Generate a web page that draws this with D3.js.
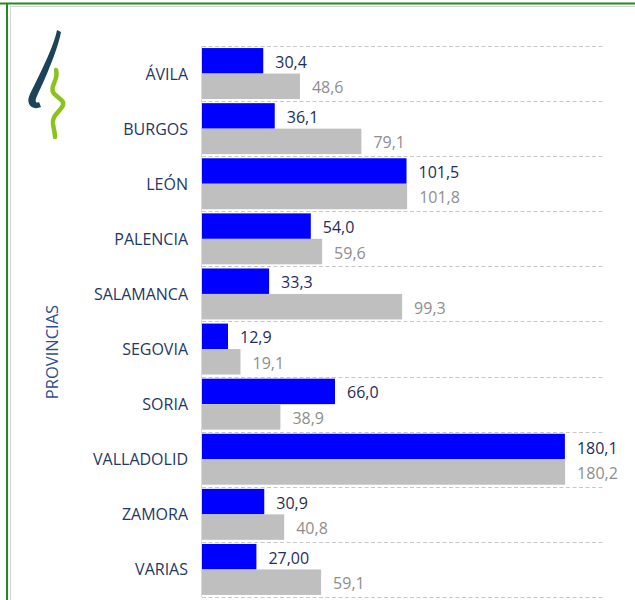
<!DOCTYPE html>
<html>
<head>
<meta charset="utf-8">
<script src="https://cdn.jsdelivr.net/npm/d3@7"></script>
<style>
  body { margin: 0; background: #fff; }
  svg { display: block; font-family: "Open Sans", sans-serif; }
</style>
</head>
<body>
<div id="chart"></div>
<script>
var provincias = ["ÁVILA", "BURGOS", "LEÓN", "PALENCIA", "SALAMANCA", "SEGOVIA", "SORIA", "VALLADOLID", "ZAMORA", "VARIAS"];
var serieAzul = [30.4, 36.1, 101.5, 54.0, 33.3, 12.9, 66.0, 180.1, 30.9, 27.00];
var serieGris = [48.6, 79.1, 101.8, 59.6, 99.3, 19.1, 38.9, 180.2, 40.8, 59.1];
var etiquetasAzul = ["30,4", "36,1", "101,5", "54,0", "33,3", "12,9", "66,0", "180,1", "30,9", "27,00"];
var etiquetasGris = ["48,6", "79,1", "101,8", "59,6", "99,3", "19,1", "38,9", "180,2", "40,8", "59,1"];

var width = 635, height = 600;
var margin = { top: 46, right: 30, bottom: 3, left: 202 };

var svg = d3.select("#chart")
  .append("svg")
  .attr("width", width)
  .attr("height", height);

// frame (green outer + light inner)
svg.append("line").attr("x1", 0).attr("x2", width).attr("y1", 3.5).attr("y2", 3.5)
  .attr("stroke", "#1e8c1e").attr("stroke-width", 2);
svg.append("line").attr("x1", 7).attr("x2", 7).attr("y1", 3).attr("y2", height)
  .attr("stroke", "#1e8c1e").attr("stroke-width", 2);
svg.append("line").attr("x1", 10).attr("x2", width).attr("y1", 6.5).attr("y2", 6.5)
  .attr("stroke", "#d4d4d4");
svg.append("line").attr("x1", 10.5).attr("x2", 10.5).attr("y1", 6).attr("y2", height)
  .attr("stroke", "#d4d4d4");

// logo
svg.append("path")
  .attr("d", "M57,30 C54,46 40,74 30,94 C25,104 32,111 41,107 L39,102 C35,104 35,100 37,96 C46,77 58,49 61,32 Z")
  .attr("fill", "#1b4459");
svg.append("path")
  .attr("d", "M56,70 C59,80 50,85 53,92 C56,98 67,100 62,107 C58,113 52,116 53,124 C54,130 55,134 55,137")
  .attr("fill", "none").attr("stroke", "#8cc21e").attr("stroke-width", 4.5).attr("stroke-linecap", "round");

var x = d3.scaleLinear().domain([0, 200]).range([margin.left, width - margin.right]);
var y = d3.scaleBand().domain(provincias).range([margin.top, height - margin.bottom])
  .paddingInner(0.075).paddingOuter(0.0375);
var sub = d3.scaleBand().domain([0, 1]).range([0, y.bandwidth()]);
var gap = y.step() * 0.0375;

// dashed gridlines at category boundaries
var bounds = provincias.map(function (p) { return y(p) - gap; });
bounds.push(y(provincias[provincias.length - 1]) + y.bandwidth() + gap);
svg.append("g").selectAll("line").data(bounds).join("line")
  .attr("x1", x(0)).attr("x2", x(200))
  .attr("y1", function (d) { return Math.round(d) + 0.5; })
  .attr("y2", function (d) { return Math.round(d) + 0.5; })
  .attr("stroke", "#c8c8c8").attr("stroke-dasharray", "4,2.5");

var rows = provincias.map(function (p, i) {
  return { name: p, a: serieAzul[i], g: serieGris[i], la: etiquetasAzul[i], lg: etiquetasGris[i] };
});

var grp = svg.append("g").selectAll("g").data(rows).join("g")
  .attr("transform", function (d) { return "translate(0," + y(d.name) + ")"; });

grp.append("rect")
  .attr("x", x(0)).attr("y", sub(0))
  .attr("width", function (d) { return x(d.a) - x(0); })
  .attr("height", sub.bandwidth())
  .attr("fill", "#0000ff");
grp.append("rect")
  .attr("x", x(0)).attr("y", sub(1))
  .attr("width", function (d) { return x(d.g) - x(0); })
  .attr("height", sub.bandwidth())
  .attr("fill", "#bfbfbf");

grp.append("text")
  .attr("x", function (d) { return x(d.a) + 12; })
  .attr("y", sub(0) + sub.bandwidth() / 2 + 1)
  .attr("dominant-baseline", "central")
  .attr("font-size", 16)
  .attr("fill", "#1f2d5c")
  .text(function (d) { return d.la; });
grp.append("text")
  .attr("x", function (d) { return x(d.g) + 12; })
  .attr("y", sub(1) + sub.bandwidth() / 2 + 1)
  .attr("dominant-baseline", "central")
  .attr("font-size", 16)
  .attr("fill", "#8e8e8e")
  .text(function (d) { return d.lg; });

// vertical axis line
svg.append("line")
  .attr("x1", x(0) - 0.5).attr("x2", x(0) - 0.5)
  .attr("y1", margin.top).attr("y2", height - margin.bottom)
  .attr("stroke", "#d9d9d9");

// category labels
svg.append("g").selectAll("text").data(provincias).join("text")
  .attr("x", 188)
  .attr("y", function (d) { return y(d) + y.bandwidth() / 2; })
  .attr("text-anchor", "end")
  .attr("dominant-baseline", "central")
  .attr("font-size", 16)
  .attr("fill", "#1f3864")
  .text(function (d) { return d; });

svg.append("text")
  .attr("transform", "translate(51," + 352 + ") rotate(-90)")
  .attr("text-anchor", "middle")
  .attr("dominant-baseline", "central")
  .attr("font-size", 16.5)
  .attr("fill", "#2f4f8f")
  .text("PROVINCIAS");
</script>
</body>
</html>
